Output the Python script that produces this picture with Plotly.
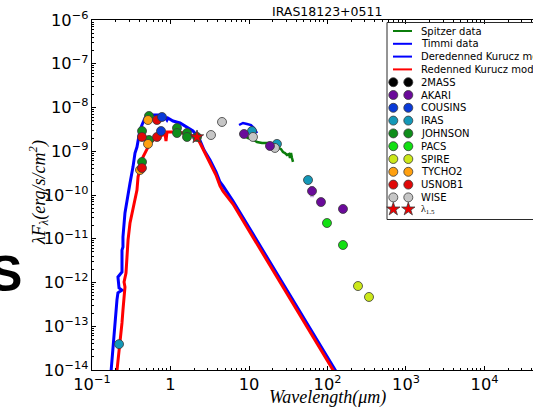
import plotly.graph_objects as go

# ---- model spectra (wavelength in micron, lambda*F_lambda in erg/s/cm^2) ----
dered_wl = [0.170, 0.175, 0.185, 0.196, 0.202, 0.208, 0.214, 0.241, 0.221, 0.214, 0.241,
            0.241, 0.248, 0.248, 0.263, 0.279, 0.305, 0.333, 0.353, 0.374, 0.386, 0.409,
            0.433, 0.473, 0.517, 0.635, 0.779, 0.851, 0.902, 0.929, 1.076, 1.321, 1.623,
            1.935, 2.307, 2.672, 3.186, 3.798, 4.271, 4.665, 6.255, 124.6, 200.0]
dered_fl = [5.0e-15, 1.0e-14, 3.4e-14, 9.6e-14, 2.0e-13, 4.0e-13, 5.8e-13, 6.7e-13, 7.5e-13,
            1.34e-12, 1.74e-12, 5.5e-12, 6.5e-12, 1.1e-11, 3.9e-11, 7.7e-11, 1.88e-10, 4.4e-10,
            9.1e-10, 1.25e-9, 1.81e-9, 3.06e-9, 3.98e-9, 5.75e-9, 6.74e-9, 6.74e-9, 6.74e-9,
            6.07e-9, 5.18e-9, 5.75e-9, 4.91e-9, 4.43e-9, 3.58e-9, 2.90e-9, 2.01e-9, 1.07e-9,
            6.3e-10, 3.36e-10, 1.98e-10, 1.61e-10, 7.3e-11, 1.0e-14, 2.5e-15]

red_wl = [0.200, 0.208, 0.227, 0.234, 0.241, 0.248, 0.256, 0.263, 0.256, 0.271, 0.279,
          0.288, 0.305, 0.333, 0.353, 0.374, 0.386, 0.409, 0.446, 0.502, 0.548, 0.673,
          0.803, 0.851, 0.876, 0.902, 1.210, 1.443, 1.935, 2.176, 2.376, 2.917, 3.186,
          3.798, 4.271, 4.665, 6.255, 117.5, 190.0]
red_fl = [5.0e-15, 1.0e-14, 3.4e-14, 5.7e-14, 1.19e-13, 2.35e-13, 4.0e-13, 7.9e-13, 1.03e-12,
          1.65e-12, 3.8e-12, 9.4e-12, 2.3e-11, 4.5e-11, 7.7e-11, 1.3e-10, 2.6e-10, 4.1e-10,
          7.4e-10, 1.12e-9, 1.54e-9, 2.12e-9, 2.35e-9, 2.61e-9, 1.71e-9, 2.75e-9, 2.75e-9,
          2.61e-9, 2.23e-9, 2.01e-9, 1.54e-9, 7.4e-10, 5.4e-10, 2.86e-10, 1.61e-10, 1.23e-10,
          6.2e-11, 1.0e-14, 2.4e-15]

# ---- spectroscopy ----
spitzer_wl = [7.68, 8.64, 9.71, 10.92, 12.65, 14.64, 16.47, 18.51, 20.82, 23.41, 25.57,
              27.11, 28.74, 30.48, 32.33, 33.29, 34.28, 35.30, 36.35]
spitzer_fl = [2.61e-9, 2.23e-9, 2.01e-9, 1.91e-9, 1.63e-9, 1.54e-9, 1.54e-9, 1.54e-9, 1.39e-9,
              1.25e-9, 1.12e-9, 9.6e-10, 9.1e-10, 8.2e-10, 8.65e-10, 7.0e-10, 9.1e-10, 7.0e-10,
              5.7e-10]

timmi_wl = [7.47, 8.39, 9.44, 10.6, 11.58, 12.65]
timmi_fl = [3.98e-9, 4.43e-9, 4.20e-9, 3.98e-9, 3.40e-9, 2.61e-9]

# ---- photometry ----
johnson_wl = [0.532, 0.434, 0.532, 0.434, 1.210, 1.210, 1.623, 1.623, 2.176]
johnson_fl = [6.4e-9, 2.9e-9, 1.81e-9, 5.7e-10, 3.4e-9, 2.61e-9, 2.61e-9, 2.12e-9, 2.12e-9]
tycho_wl = [0.517, 0.517, 0.409]
tycho_fl = [5.18e-9, 1.47e-9, 3.73e-10]
usnob_wl = [0.673, 0.433, 0.673, 0.433]
usnob_fl = [5.18e-9, 2.12e-9, 2.12e-9, 4.14e-10]
usnob_err = [0.8e-9, 0.3e-9, 0.3e-9, 0.6e-10]
cousins_wl = [0.779, 0.757]
cousins_fl = [6.07e-9, 2.90e-9]
wise_wl = [3.28, 4.53, 11.24, 21.4]
wise_fl = [2.35e-9, 4.67e-9, 2.12e-9, 1.19e-9]
akari_wl = [8.64, 18.5, 63.5, 82.6, 157.5]
akari_fl = [2.48e-9, 1.32e-9, 1.23e-10, 6.9e-11, 4.8e-11]
akari_err = [0.0, 0.0, 0.3e-10, 0.0, 0.0]
iras_wl = [0.221, 10.92, 22.7, 56.5]
iras_fl = [3.9e-14, 2.9e-9, 1.47e-9, 2.2e-10]
pacs_wl = [98.5, 157.5]
pacs_fl = [2.29e-11, 7.2e-12]
spire_wl = [244.7, 337.9]
spire_fl = [8.3e-13, 4.67e-13]
lam15_wl = [2.176]
lam15_fl = [2.12e-9]

C_2MASS = "#000000"
C_AKARI = "#6a0a9a"
C_COUSINS = "#0a3ad8"
C_IRAS = "#1498b8"
C_JOHNSON = "#0e8e1a"
C_PACS = "#12e012"
C_SPIRE = "#cce81a"
C_TYCHO = "#ffa010"
C_USNOB = "#e00808"
C_WISE = "#c6c6c6"
C_STAR = "#ee0000"

legend_lines = [("Spitzer data", "#0b7d0b"), ("Timmi data", "#0000ff"),
                ("Deredenned Kurucz model", "#0000ff"), ("Redenned Kurucz model", "#ff0000")]
legend_points = [("2MASS", C_2MASS), ("AKARI", C_AKARI), ("COUSINS", C_COUSINS),
                 ("IRAS", C_IRAS), ("JOHNSON", C_JOHNSON), ("PACS", C_PACS),
                 ("SPIRE", C_SPIRE), ("TYCHO2", C_TYCHO), ("USNOB1", C_USNOB),
                 ("WISE", C_WISE)]

EDGE = dict(color="#3a3a3a", width=0.8)
MSIZE = 9
STAR_SIZE = 10

fig = go.Figure()

fig.add_trace(go.Scatter(x=dered_wl, y=dered_fl, mode="lines",
                         line=dict(color="#0000ff", width=3), showlegend=False))
fig.add_trace(go.Scatter(x=red_wl, y=red_fl, mode="lines",
                         line=dict(color="#ff0000", width=3), showlegend=False))
fig.add_trace(go.Scatter(x=spitzer_wl, y=spitzer_fl, mode="lines",
                         line=dict(color="#0b7d0b", width=2.5), showlegend=False))
fig.add_trace(go.Scatter(x=timmi_wl, y=timmi_fl, mode="lines",
                         line=dict(color="#0000ff", width=2.5), showlegend=False))


def add_points(wl, fl, color, err=None, err_color=None, symbol="circle", size=MSIZE):
    kw = {}
    if err is not None:
        kw["error_y"] = dict(type="data", array=err, color=err_color, thickness=1.5, width=2)
    fig.add_trace(go.Scatter(x=wl, y=fl, mode="markers", showlegend=False,
                             marker=dict(color=color, size=size, symbol=symbol, line=EDGE), **kw))


add_points(iras_wl, iras_fl, C_IRAS)
add_points(johnson_wl, johnson_fl, C_JOHNSON)
add_points(tycho_wl, tycho_fl, C_TYCHO)
add_points(usnob_wl, usnob_fl, C_USNOB, usnob_err, "#f6a6a6")
add_points(cousins_wl, cousins_fl, C_COUSINS)
add_points(wise_wl, wise_fl, C_WISE)
add_points(akari_wl, akari_fl, C_AKARI, akari_err, "#c9a6e6")
add_points(pacs_wl, pacs_fl, C_PACS)
add_points(spire_wl, spire_fl, C_SPIRE)
add_points(lam15_wl, lam15_fl, C_STAR, symbol="star", size=STAR_SIZE)

# ---- hand-built legend box (two keys per entry) on an overlay axis in paper units ----
PX_L, PX_R, PX_T, PX_B = 92.0, 533.0, 20.0, 370.0


def px(xp):
    return (xp - PX_L) / (PX_R - PX_L)


def py(yp):
    return (PX_B - yp) / (PX_B - PX_T)


row0, row_step = 31.0, 12.8
annotations = []
shapes = [dict(type="rect", xref="paper", yref="paper", x0=px(387), x1=px(600),
               y0=py(219.5), y1=py(22.5), line=dict(color="#2a2a2a", width=1),
               fillcolor="rgba(0,0,0,0)", layer="above")]

LEG_FONT = dict(family="DejaVu Sans", size=10, color="black")
rows = 0
for name, col in legend_lines:
    yr = py(row0 + row_step * rows)
    fig.add_trace(go.Scatter(x=[px(393), px(412)], y=[yr, yr], xaxis="x2", yaxis="y2",
                             mode="lines", line=dict(color=col, width=2), showlegend=False,
                             hoverinfo="skip", cliponaxis=False))
    annotations.append(dict(x=px(419), y=yr, xref="paper", yref="paper", text=name,
                            showarrow=False, xanchor="left", yanchor="middle", font=LEG_FONT))
    rows += 1
for name, col in legend_points:
    yr = py(row0 + row_step * rows)
    fig.add_trace(go.Scatter(x=[px(393.3), px(408.3)], y=[yr, yr], xaxis="x2", yaxis="y2",
                             mode="markers", marker=dict(color=col, size=MSIZE, line=EDGE),
                             showlegend=False, hoverinfo="skip", cliponaxis=False))
    annotations.append(dict(x=px(419), y=yr, xref="paper", yref="paper", text=name,
                            showarrow=False, xanchor="left", yanchor="middle", font=LEG_FONT))
    rows += 1
yr = py(row0 + row_step * rows - 1)
fig.add_trace(go.Scatter(x=[px(393.3), px(408.3)], y=[yr, yr], xaxis="x2", yaxis="y2",
                         mode="markers", marker=dict(color=C_STAR, size=STAR_SIZE, symbol="star",
                                                     line=EDGE),
                         showlegend=False, hoverinfo="skip", cliponaxis=False))
annotations.append(dict(x=px(419), y=yr, xref="paper", yref="paper", text="λ<sub>1.5</sub>",
                        showarrow=False, xanchor="left", yanchor="middle",
                        font=dict(family="Liberation Serif", size=10, color="black")))

# ---- titles ----
SERIF_IT = dict(family="Liberation Serif", size=18, color="black", style="italic")
annotations += [
    dict(x=px(327), y=py(12), xref="paper", yref="paper", text="IRAS18123+0511",
         showarrow=False, xanchor="center", yanchor="middle",
         font=dict(family="DejaVu Sans", size=12.5, color="black")),
    dict(x=px(327), y=py(397), xref="paper", yref="paper", text="Wavelength(μm)",
         showarrow=False, xanchor="center", yanchor="middle", font=SERIF_IT),
    dict(x=px(38), y=py(193), xref="paper", yref="paper",
         text="λF<sub>λ</sub>(erg/s/cm<sup>2</sup>)", textangle=-90,
         showarrow=False, xanchor="center", yanchor="middle", font=SERIF_IT),
    dict(x=px(5), y=py(274), xref="paper", yref="paper", text="<b>S</b>",
         showarrow=False, xanchor="center", yanchor="middle",
         font=dict(family="Liberation Sans", size=50, color="black")),
]

TICKFONT = dict(family="DejaVu Sans", size=13, color="black")
fig.update_layout(
    width=533, height=408,
    margin=dict(l=92, r=0, t=20, b=38),
    paper_bgcolor="white", plot_bgcolor="white",
    showlegend=False,
    xaxis=dict(type="log", range=[-1, 4.618], dtick=1, exponentformat="power",
               showline=True, linecolor="black", linewidth=1, mirror="allticks",
               ticks="inside", ticklen=4, tickcolor="black", tickfont=TICKFONT,
               showgrid=False, zeroline=False,
               minor=dict(ticks="inside", ticklen=2, tickcolor="black", dtick="D1",
                          showgrid=False)),
    yaxis=dict(type="log", range=[-14, -6], dtick=1, exponentformat="power",
               showline=True, linecolor="black", linewidth=1,
               ticks="inside", ticklen=4, tickcolor="black", tickfont=TICKFONT,
               showgrid=False, zeroline=False,
               minor=dict(ticks="inside", ticklen=2, tickcolor="black", dtick="D1",
                          showgrid=False)),
    xaxis2=dict(domain=[0, 1], range=[0, 1], overlaying="x", anchor="y2", visible=False),
    yaxis2=dict(domain=[0, 1], range=[0, 1], overlaying="y", anchor="x2", visible=False),
    shapes=shapes,
    annotations=annotations,
)

fig.write_html("out.html")
